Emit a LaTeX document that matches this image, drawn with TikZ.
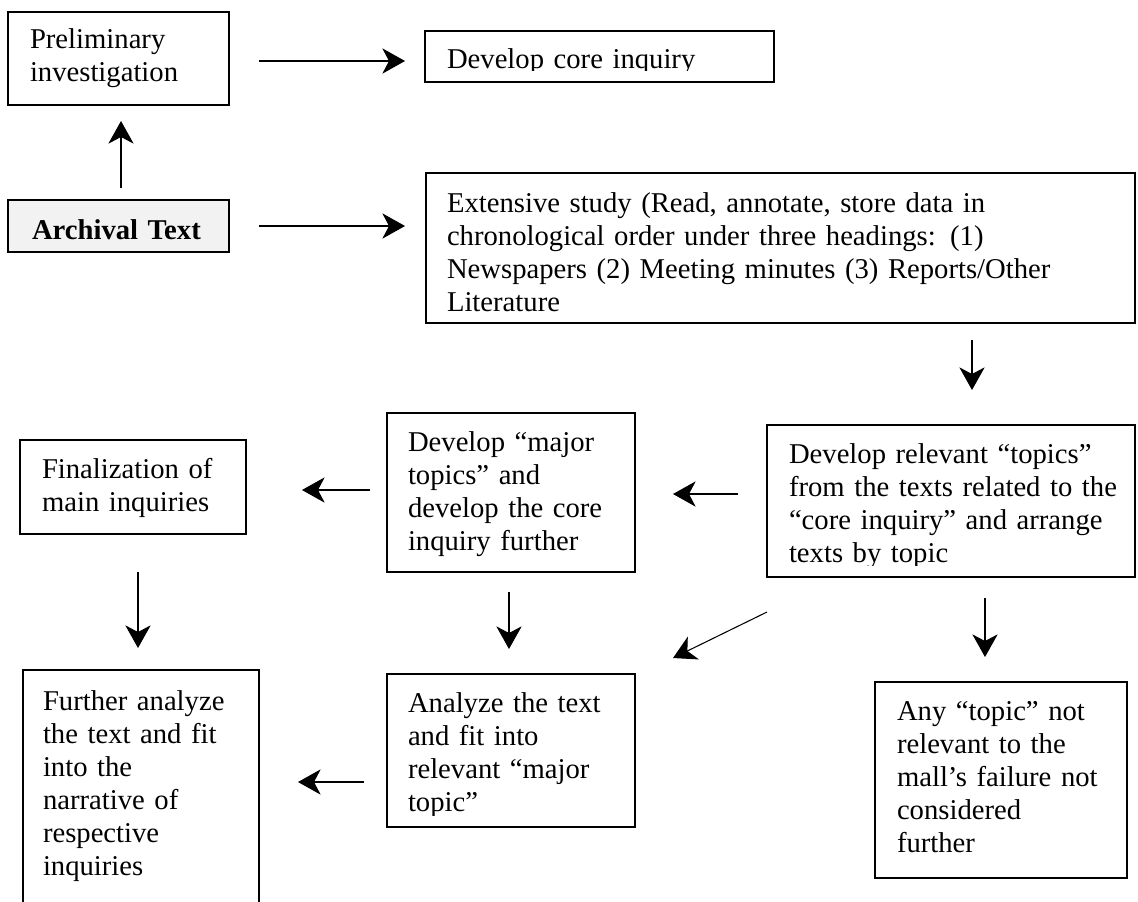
\documentclass[tikz,border=0pt]{standalone}
\usepackage{fontspec}
\setmainfont{Liberation Serif}
\usetikzlibrary{arrows.meta,calc,fit}
\definecolor{boxgray}{HTML}{F2F2F2}
\newcommand\figfont{\fontsize{21.5pt}{24.75pt}\selectfont}
\tikzset{
  box/.style={draw=black, line width=2pt, inner sep=0pt, outer sep=0pt},
  txt/.style={anchor=north west, inner sep=0pt, outer sep=0pt, text width=600pt, align=left, font=\figfont},
  arr/.style={line width=0.8pt, -{Stealth[length=17pt,width=19pt,inset=5pt]}},
}
\begin{document}
\begin{tikzpicture}[x=0.75pt,y=-0.75pt]
\useasboundingbox (0,0) rectangle (1138,901);
% boxes
\node[box, fit={(8,12) (229,105)}] (prelim) {};
\node[box, fill=boxgray, fit={(8,200) (229,252)}] (arch) {};
\node[box, fit={(425,31) (774,82)}] (core) {};
\node[box, fit={(426,173) (1135,323)}] (ext) {};
\node[box, fit={(767,425) (1135,577)}] (rel) {};
\node[box, fit={(387,413) (635,572)}] (major) {};
\node[box, fit={(20,440) (246,534)}] (final) {};
\node[box, fit={(23,670) (259,910)}] (further) {};
\node[box, fit={(387,674) (635,827)}] (analyze) {};
\node[box, fit={(875,682) (1127,878)}] (any) {};
% texts
\node[txt] (tprelim) at ($(prelim.north west)+(22,13)$) {\strut Preliminary\\investigation};
\node[txt] (tarch) at ($(arch.north west)+(24,16)$) {\strut\textbf{Archival Text}};
\begin{scope}
\clip (core.north west) rectangle ($(core.south east)+(0,-12)$);
\node[txt] (tcore) at ($(core.north west)+(22,14)$) {\strut Develop core inquiry};
\end{scope}
\node[txt] (text) at ($(ext.north west)+(21,16)$) {\strut Extensive study (Read, annotate, store data in\\chronological order under three headings: (1)\\Newspapers (2) Meeting minutes (3) Reports/Other\\Literature};
\begin{scope}
\clip (rel.north west) rectangle ($(rel.south east)+(0,-12)$);
\node[txt] (trel) at ($(rel.north west)+(22,15)$) {\strut Develop relevant “topics”\\from the texts related to the\\“core inquiry” and arrange\\texts by topic};
\end{scope}
\node[txt] (tmajor) at ($(major.north west)+(21,15)$) {\strut Develop “major\\topics” and\\develop the core\\inquiry further};
\node[txt] (tfinal) at ($(final.north west)+(22,15)$) {\strut Finalization of\\main inquiries};
\node[txt] (tfurther) at ($(further.north west)+(20,17)$) {\strut Further analyze\\the text and fit\\into the\\narrative of\\respective\\inquiries};
\begin{scope}
\clip (analyze.north west) rectangle ($(analyze.south east)+(0,-12)$);
\node[txt] (tanalyze) at ($(analyze.north west)+(21,15)$) {\strut Analyze the text\\and fit into\\relevant “major\\topic”};
\end{scope}
\node[txt] (tany) at ($(any.north west)+(22,15)$) {\strut Any “topic” not\\relevant to the\\mall’s failure not\\considered\\further};
% connectors
\draw[arr] ($(prelim.east)+(30,2.5)$) -- ($(prelim.east -| core.west)+(-20,2.5)$);
\draw[arr] ($(arch.east)+(30,0)$) -- ($(arch.east -| ext.west)+(-21,0)$);
\draw[arr] ($(arch.north)+(2.5,-12)$) -- ($(prelim.south)+(2.5,16)$);
\draw[arr] ($(ext.south -| rel.north)+(21,17)$) -- ($(rel.north)+(21,-35)$);
\draw[arr] ($(rel.west)+(-29,-7)$) -- ($(major.east)+(38,1.5)$);
\draw[arr] ($(major.west)+(-17,-2.5)$) -- ($(final.east)+(56,3)$);
\draw[arr] ($(final.south)+(5,38)$) -- ($(further.north)+(-3,-22)$);
\draw[arr] ($(major.south)+(-2,20)$) -- ($(analyze.north)+(-2,-25)$);
\draw[arr] ($(rel.south west)+(0,35)$) -- ($(analyze.north east)+(38,-16)$);
\draw[arr] ($(rel.south)+(34,21)$) -- ($(any.north)+(-16,-25)$);
\draw[arr] ($(analyze.west)+(-23,31.5)$) -- ($(further.east)+(39,-8)$);
\end{tikzpicture}
\end{document}
